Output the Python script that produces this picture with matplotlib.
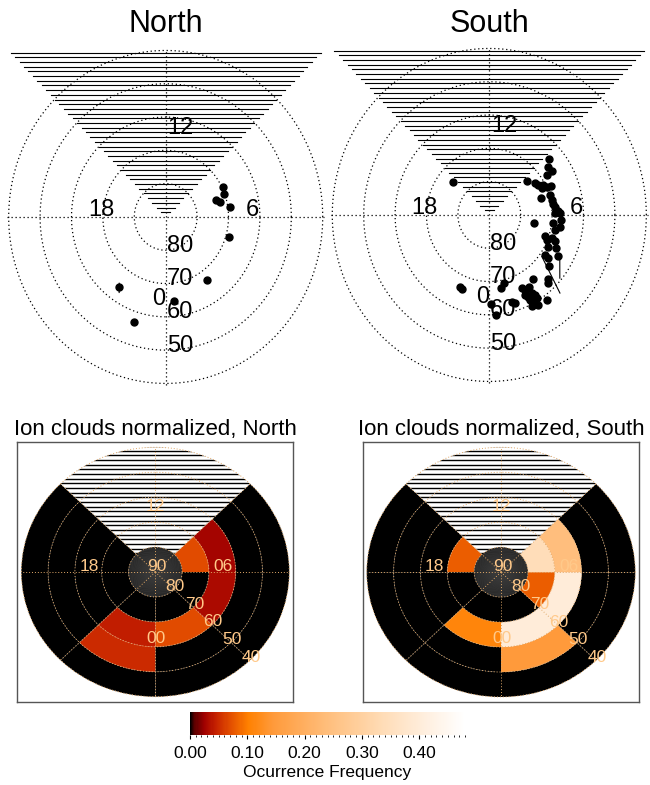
import numpy as np
import matplotlib
matplotlib.use("Agg")
import matplotlib.pyplot as plt
from matplotlib.patches import Wedge, Circle
from matplotlib.colors import LinearSegmentedColormap, Normalize
from matplotlib.cm import ScalarMappable

plt.rcParams['font.family'] = ['Liberation Sans', 'DejaVu Sans']

# ion cloud positions (MLT hours, magnetic latitude deg)
north_mlt = [7.77, 7.34, 7.17, 6.95, 6.57, 4.89, 2.33, 21.67, 0.39, 22.83]
north_lat = [69.7, 70.2, 73.1, 72.1, 69.3, 68.8, 66.9, 64.2, 64.5, 56.9]

south_mlt = [15.31, 8.71, 8.75, 8.53, 8.25, 8.22, 8.25, 8.0, 7.84, 7.71,
             7.66, 7.59, 7.13, 7.15, 6.85, 6.62, 6.45, 6.23, 6.09, 6.09,
             5.75, 5.41, 5.39, 5.57, 5.19, 4.69, 4.51, 4.71, 4.61, 4.21,
             4.33, 4.03, 3.73, 3.67, 3.39, 2.40, 2.95, 2.83, 22.45, 22.55,
             0.89, 0.63, 1.67, 1.79, 2.01, 1.69, 1.79, 1.99, 2.07, 1.80,
             1.85, 2.07, 2.0, 1.74, 2.38, 1.02, 1.15, 0.07, 0.29]
south_lat = [74.9, 74.3, 64.7, 66.4, 66.1, 68.1, 72.5, 72.0, 70.6, 71.5,
             69.8, 68.5, 72.8, 69.8, 69.6, 69.5, 69.0, 68.0, 67.5, 69.1,
             67.1, 67.2, 75.5, 69.5, 68.6, 71.2, 70.2, 68.9, 67.6, 68.9,
             66.4, 64.7, 68.6, 67.3, 65.5, 66.2, 63.1, 62.5, 66.4, 66.2,
             69.1, 67.7, 65.7, 64.8, 64.9, 63.4, 62.5, 62.9, 62.0, 61.4,
             60.0, 60.8, 58.8, 59.4, 58.6, 63.0, 62.3, 63.3, 59.9]

# short drift tracks (start/end MLT, start/end lat)
north_trk_mlt = [(21.56, 21.79)]
north_trk_lat = [(65.2, 62.9)]
south_trk_mlt = [(3.55, 2.92), (3.93, 3.32)]
south_trk_lat = [(69.1, 57.5), (63.8, 60.6)]

# normalized occurrence grid: rows = latitude bins, columns = 3h MLT bins
mlt_edges = [0, 3, 6, 9, 12, 15, 18, 21, 24]
lat_edges = [40, 50, 60, 70, 80]
nan = np.nan
north_freq = [[0.00, 0.00, 0.00, nan, nan, 0.00, 0.00, 0.00],   # 40-50
              [0.00, 0.00, 0.00, nan, nan, 0.00, 0.00, 0.050],  # 50-60
              [0.068, 0.030, 0.028, nan, nan, 0.00, 0.00, 0.042],  # 60-70
              [0.00, 0.00, 0.068, nan, nan, 0.00, 0.00, 0.00]]  # 70-80
south_freq = [[0.00, 0.00, 0.00, nan, nan, 0.00, 0.00, 0.00],
              [0.145, 0.00, 0.00, nan, nan, 0.00, 0.00, 0.00],
              [0.40, 0.40, 0.24, nan, nan, 0.00, 0.00, 0.11],
              [0.00, 0.08, 0.34, nan, nan, 0.08, 0.00, 0.00]]

cbar_ticks = [0.0, 0.1, 0.2, 0.3, 0.4]
vmax = 0.48

cmap = LinearSegmentedColormap.from_list("ionheat", [
    (0.0, "#000000"), (0.015, "#5a0000"), (0.05, "#a00000"), (0.09, "#c42000"),
    (0.14, "#e04a00"), (0.21, "#ff8000"), (0.30, "#ff9a3a"), (0.50, "#ffbe7c"),
    (0.70, "#ffdcb6"), (0.85, "#ffeedd"), (1.0, "#ffffff")])
norm = Normalize(0, vmax)

W, H = 650, 785
fig = plt.figure(figsize=(6.5, 7.85), dpi=100)


def to_xy(mlt, lat):
    ang = np.deg2rad((np.asarray(mlt, float) - 6.0) * 15.0)
    r = 90.0 - np.asarray(lat, float)
    return r * np.cos(ang), r * np.sin(ang)


def px_axes(left, top, width, height):
    return fig.add_axes([left / W, 1 - (top + height) / H, width / W, height / H])


t = np.linspace(0, 2 * np.pi, 400)


def dial(ax, mlt, lat, trk_mlt, trk_lat, title, cx):
    ax.set_xlim(-52, 52)
    ax.set_ylim(-52, 52)
    ax.axis("off")
    dots = (0, (1, 2.2))
    for r in [10, 20, 30, 40, 50]:
        ax.plot(r * np.cos(t), r * np.sin(t), color="k", lw=0.9, ls=dots)
    ax.plot([-50.5, 50.5], [0, 0], color="k", lw=0.9, ls=dots)
    ax.plot([0, 0], [-50.5, 50.5], color="k", lw=0.9, ls=dots)
    for k in range(1, 36):
        y = 1.41 * k
        ax.plot([-y, y], [y, y], color="k", lw=0.8)
    for m, l in zip(trk_mlt, trk_lat):
        x, y = to_xy(m, l)
        ax.plot(x, y, color="k", lw=0.8)
    x, y = to_xy(mlt, lat)
    ax.plot(x, y, "o", color="k", ms=5, mec="k")
    fs = 17
    ax.text(0.5, 25, "12", fontsize=fs, ha="left", va="baseline")
    ax.text(25.5, 0.2, "6", fontsize=fs, ha="left", va="baseline")
    ax.text(-24.8, 0.2, "18", fontsize=fs, ha="left", va="baseline")
    ax.text(0, -26.4, "0", fontsize=fs, ha="right", va="baseline")
    for lab, yy in zip(["80", "70", "60", "50"], [-10.5, -20.4, -30.3, -40.5]):
        ax.text(0.3, yy, lab, fontsize=fs, ha="left", va="baseline")
    fig.text(cx / W, 1 - 24 / H, title, fontsize=22, ha="center", va="center")


dial(px_axes(2.4, 43.8, 326.6, 346.3), north_mlt, north_lat,
     north_trk_mlt, north_trk_lat, "North", 166)
dial(px_axes(326, 41.8, 326.6, 346.3), south_mlt, south_lat,
     south_trk_mlt, south_trk_lat, "South", 489)

grid_col = "#e0a868"
lab_col = "#ffc98a"


def freq_map(ax, freq, title):
    ax.set_xlim(-51.5, 51.5)
    ax.set_ylim(-52, 52)
    ax.set_xticks([])
    ax.set_yticks([])
    for s in ax.spines.values():
        s.set_color("#555555")
        s.set_linewidth(1.0)
    ax.set_title(title, fontsize=16, pad=5)
    freq = np.asarray(freq)
    for i in range(len(lat_edges) - 1):
        for j in range(len(mlt_edges) - 1):
            v = freq[i, j]
            if np.isnan(v):
                continue
            th1 = (mlt_edges[j] - 6) * 15
            th2 = (mlt_edges[j + 1] - 6) * 15
            ax.add_patch(Wedge((0, 0), 90 - lat_edges[i], th1, th2, width=10,
                               facecolor=cmap(norm(v)), edgecolor="none"))
    # no-coverage sector, hatched
    clip = Wedge((0, 0), 50, 45, 135, facecolor="white", edgecolor="none")
    ax.add_patch(clip)
    for y in np.arange(1.87, 51, 1.87):
        ln, = ax.plot([-52, 52], [y, y], color="k", lw=1.0)
        ln.set_clip_path(clip)
    # polar cap disk
    disk = Circle((0, 0), 10, facecolor="#161616", edgecolor="none", zorder=3)
    ax.add_patch(disk)
    for a in np.linspace(0, 2 * np.pi, 150, endpoint=False):
        ln, = ax.plot([0, 10 * np.cos(a)], [0, 10 * np.sin(a)], color="#3a3a3a",
                      lw=0.5, zorder=3)
        ln.set_clip_path(disk)
    dots = (0, (1, 2))
    for r in [10, 20, 30, 40, 50]:
        ax.plot(r * np.cos(t), r * np.sin(t), color=grid_col, lw=0.7, ls=dots, zorder=4)
    for a in np.arange(0, 360, 45):
        ax.plot([0, 50 * np.cos(np.deg2rad(a))], [0, 50 * np.sin(np.deg2rad(a))],
                color=grid_col, lw=0.7, ls=dots, zorder=4)
    fs = 12.5
    ax.text(0, 24.5, "12", color=lab_col, fontsize=fs, ha="center", va="baseline", zorder=5)
    ax.text(25.4, 0.4, "06", color=lab_col, fontsize=fs, ha="center", va="baseline", zorder=5)
    ax.text(-24.8, 0.4, "18", color=lab_col, fontsize=fs, ha="center", va="baseline", zorder=5)
    ax.text(0.4, -28.4, "00", color=lab_col, fontsize=fs, ha="center", va="baseline", zorder=5)
    ax.text(0.7, 0.4, "90", color=lab_col, fontsize=fs, ha="center", va="baseline", zorder=5)
    for lab, r in zip(["80", "70", "60", "50", "40"], [10, 20, 30, 40, 50]):
        c = np.cos(np.deg2rad(-45)) * r
        ax.text(c + 0.4, -c - 0.6, lab, color=lab_col, fontsize=fs, ha="center",
                va="baseline", zorder=5)


freq_map(px_axes(17.3, 442.3, 276, 259.4), north_freq, "Ion clouds normalized, North")
freq_map(px_axes(362.7, 442.3, 276.6, 259.7), south_freq, "Ion clouds normalized, South")

cax = px_axes(190, 712, 275, 23)
cb = fig.colorbar(ScalarMappable(norm=norm, cmap=cmap), cax=cax, orientation="horizontal")
cb.set_ticks(cbar_ticks)
cb.set_ticklabels(["%.2f" % v for v in cbar_ticks])
cb.ax.xaxis.set_minor_locator(matplotlib.ticker.MultipleLocator(0.01))
cb.ax.tick_params(which="major", length=3, labelsize=12.5, pad=5)
cb.ax.tick_params(which="minor", length=1.5)
cb.outline.set_visible(False)
cb.set_label("Ocurrence Frequency", fontsize=12.5, labelpad=3)

fig.savefig("out.png", dpi=100)
